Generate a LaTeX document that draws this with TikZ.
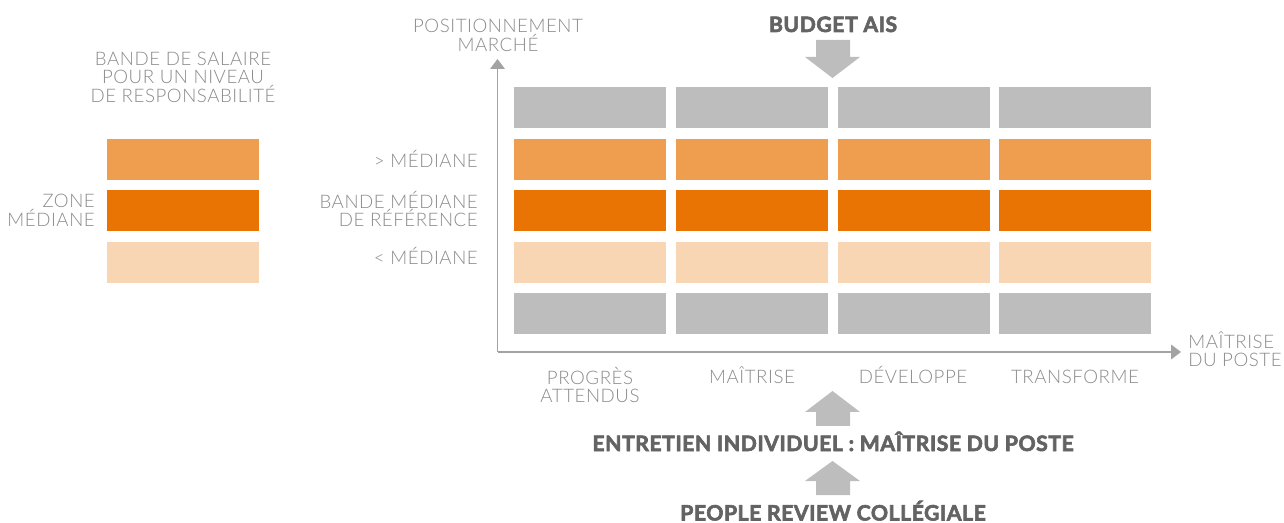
\documentclass[tikz,border=0pt]{standalone}
\usepackage{fontspec}
\usetikzlibrary{arrows.meta}
\IfFontExistsTF{Lato Light}{\newfontfamily\lightf[LetterSpace=3]{Lato Light}}{\newfontfamily\lightf[LetterSpace=3]{Lato}}
\newfontfamily\heavyf[LetterSpace=2.5, BoldFeatures={FakeBold=3}]{Lato}
\definecolor{gbox}{HTML}{BDBDBD}
\definecolor{oA}{HTML}{EF9E4F}
\definecolor{oB}{HTML}{E97303}
\definecolor{oC}{HTML}{F8D5B3}
\definecolor{axisc}{HTML}{A3A3A3}
\definecolor{txtc}{HTML}{8A8A8A}
\definecolor{btxt}{HTML}{636363}
\tikzset{
  lt/.style={font=\lightf\fontsize{14pt}{14pt}\selectfont, text=txtc, inner sep=0pt, align=center},
  bt/.style={font=\heavyf\bfseries\fontsize{15.9pt}{17pt}\selectfont, text=btxt, inner sep=0pt},
  cell/.style={minimum width=114pt, minimum height=30.75pt, inner sep=0pt, anchor=north west},
  axisline/.style={draw=axisc, line width=1.1pt, -{Triangle[length=7.5pt,width=11pt]}},
  blockarrow/.style={fill=gbox}
}
\begin{document}
\begin{tikzpicture}[x=0.75pt,y=-0.75pt]
\useasboundingbox (0,0) rectangle (1284,523);
% grid
\foreach \c/\x in {1/514,2/676,3/838,4/999}{
  \node[cell, fill=gbox] (r1c\c) at (\x,87) {};
  \node[cell, fill=oA]   (r2c\c) at (\x,138.5) {};
  \node[cell, fill=oB]   (r3c\c) at (\x,190) {};
  \node[cell, fill=oC]   (r4c\c) at (\x,241.5) {};
  \node[cell, fill=gbox] (r5c\c) at (\x,293) {};
}
% left legend boxes
\node[cell, fill=oA] (legA) at (107,138.5) {};
\node[cell, fill=oB] (legB) at (107,190) {};
\node[cell, fill=oC] (legC) at (107,241.5) {};
% axes
\coordinate (O) at (497.5,352);
\coordinate (ytip) at (497.5,59);
\coordinate (xtip) at (1181,352);
\draw[axisline] (O) -- (ytip);
\draw[axisline] (O) -- (xtip);
% labels (multi-line: base = last line)
\node[lt, anchor=base] (ylab) at (498,51.5) {POSITIONNEMENT\\MARCHÉ};
\node[lt, anchor=base west, align=left] (xlab) at (1188,367) {MAÎTRISE\\DU POSTE};
\node[lt, anchor=base] (legtitle) at (183,102.5) {BANDE DE SALAIRE\\POUR UN NIVEAU\\DE RESPONSABILITÉ};
\node[lt, anchor=base east, align=right] (zone) at (95,226.5) {ZONE\\MÉDIANE};
\node[lt, anchor=base east, align=right] (sup) at (478,167.5) {> MÉDIANE};
\node[lt, anchor=base east, align=right] (med) at (478,227) {BANDE MÉDIANE\\DE RÉFÉRENCE};
\node[lt, anchor=base east, align=right] (inf) at (478,265) {< MÉDIANE};
\node[lt, anchor=base] (c1) at (590,403) {PROGRÈS\\ATTENDUS};
\node[lt, anchor=base] (c2) at (752,383.5) {MAÎTRISE};
\node[lt, anchor=base] (c3) at (913,383.5) {DÉVELOPPE};
\node[lt, anchor=base] (c4) at (1075,383.5) {TRANSFORME};
\node[bt, anchor=base] (budget) at (833,32) {BUDGET AIS};
\node[bt, anchor=base] (entretien) at (833,451) {ENTRETIEN INDIVIDUEL : MAÎTRISE DU POSTE};
\node[bt, anchor=base] (people) at (833,520.5) {PEOPLE REVIEW COLLÉGIALE};
% block arrows
\fill[blockarrow] (816,40) -- (850,40) -- (850,57) -- (860,57) -- (832.5,78) -- (805,57) -- (816,57) -- cycle;
\fill[blockarrow] (816,426) -- (850,426) -- (850,412) -- (860,412) -- (832.5,391) -- (805,412) -- (816,412) -- cycle;
\fill[blockarrow] (816,495) -- (850,495) -- (850,481) -- (860,481) -- (832.5,461) -- (805,481) -- (816,481) -- cycle;
\end{tikzpicture}
\end{document}
